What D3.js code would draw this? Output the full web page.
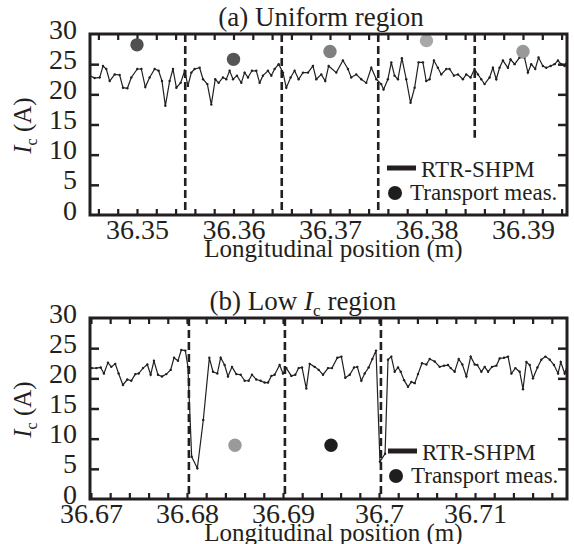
<!DOCTYPE html>
<html>
<head>
<meta charset="utf-8">
<script src="https://cdn.jsdelivr.net/npm/d3@7/dist/d3.min.js"></script>
<style>
  html, body { margin: 0; padding: 0; background: #fff; }
  svg { display: block; }
  text { font-family: "Liberation Serif", "Times New Roman", serif; fill: #231f20; }
</style>
</head>
<body>
<svg id="chart" width="574" height="544"></svg>
<script>
// ---------- (a) Uniform region: RTR-SHPM scan ----------
const posA = [
  36.34510, 36.34561, 36.34613, 36.34648, 36.34682, 36.34717, 36.34769, 36.34820, 36.34855, 36.34900,
  36.34941, 36.35003, 36.35045, 36.35086, 36.35131, 36.35183, 36.35224, 36.35259, 36.35294, 36.35338,
  36.35373, 36.35408, 36.35452, 36.35494, 36.35528, 36.35563, 36.35597, 36.35649, 36.35684, 36.35729,
  36.35770, 36.35811, 36.35846, 36.35891, 36.35925, 36.35960, 36.35995, 36.36036, 36.36081, 36.36115,
  36.36150, 36.36191, 36.36236, 36.36271, 36.36305, 36.36357, 36.36392, 36.36426, 36.36468, 36.36513,
  36.36547, 36.36592, 36.36633, 36.36675, 36.36720, 36.36772, 36.36823, 36.36858, 36.36910, 36.36951,
  36.36986, 36.37065, 36.37134, 36.37186, 36.37220, 36.37272, 36.37324, 36.37376, 36.37428, 36.37480,
  36.37531, 36.37555, 36.37600, 36.37635, 36.37669, 36.37704, 36.37745, 36.37790, 36.37835, 36.37877,
  36.37918, 36.37963, 36.37997, 36.38032, 36.38077, 36.38118, 36.38153, 36.38205, 36.38239, 36.38284,
  36.38326, 36.38377, 36.38412, 36.38457, 36.38498, 36.38533, 36.38567, 36.38602, 36.38654, 36.38688,
  36.38723, 36.38757, 36.38792, 36.38844, 36.38871, 36.38913, 36.38964, 36.39016, 36.39051, 36.39085,
  36.39127, 36.39161, 36.39206, 36.39241, 36.39286, 36.39327, 36.39362, 36.39396, 36.39431, 36.39465
];
const icA = [
  23.1, 22.7, 22.8, 24.7, 24.2, 22.2, 23.3, 23.2, 21.1, 21.0,
  22.8, 24.2, 24.2, 21.2, 22.8, 24.2, 23.9, 22.2, 18.1, 22.2,
  24.2, 21.1, 21.9, 23.9, 21.4, 23.6, 24.2, 24.4, 22.5, 21.7,
  18.3, 22.5, 21.9, 22.8, 22.5, 23.9, 22.5, 23.1, 21.9, 23.6,
  22.8, 23.9, 23.9, 21.9, 23.1, 23.9, 23.1, 24.2, 25.0, 23.6,
  21.1, 22.8, 23.9, 22.5, 23.6, 23.6, 24.7, 22.5, 23.3, 22.2,
  24.7, 23.6, 25.6, 24.2, 22.8, 23.3, 22.5, 21.9, 24.4, 22.5,
  21.7, 20.8, 22.5, 25.3, 23.1, 22.5, 26.0, 22.5, 18.6, 21.1,
  25.3, 25.3, 22.2, 22.5, 25.6, 24.4, 23.3, 24.2, 24.2, 23.1,
  23.3, 22.5, 23.3, 22.8, 24.2, 23.3, 22.5, 21.7, 22.8, 24.4,
  22.5, 24.4, 25.6, 24.4, 25.8, 25.0, 26.1, 26.1, 23.6, 25.0,
  24.2, 26.1, 24.7, 24.4, 24.7, 25.0, 25.6, 25.0, 24.7, 25.8
];
// transport measurements, one per 10 mm section
const dotPosA = [36.35, 36.36, 36.37, 36.38, 36.39];
const dotIcA = [28.2, 25.8, 27.1, 28.9, 27.1];
// section boundaries (lower end of each dashed line, in A)
const dashPosA = [36.355, 36.365, 36.375, 36.385];
const dashLowA = [0, 0, 0, 12.8];
const xTicksA = [36.35, 36.36, 36.37, 36.38, 36.39];
const xLabelsA = ["36.35", "36.36", "36.37", "36.38", "36.39"];
const xDomainA = [36.34513, 36.39456];

// ---------- (b) Low Ic region: RTR-SHPM scan ----------
const posB = [
  36.66969, 36.67010, 36.67056, 36.67101, 36.67135, 36.67177, 36.67212, 36.67253, 36.67288, 36.67333,
  36.67378, 36.67420, 36.67462, 36.67497, 36.67542, 36.67587, 36.67622, 36.67656, 36.67698, 36.67740,
  36.67785, 36.67830, 36.67865, 36.67906, 36.67941, 36.67983, 36.68010, 36.68049, 36.68108, 36.68170,
  36.68233, 36.68271, 36.68316, 36.68351, 36.68392, 36.68427, 36.68469, 36.68514, 36.68559, 36.68601,
  36.68642, 36.68677, 36.68722, 36.68767, 36.68809, 36.68844, 36.68879, 36.68913, 36.68965, 36.69000,
  36.69035, 36.69087, 36.69128, 36.69163, 36.69198, 36.69243, 36.69278, 36.69330, 36.69372, 36.69417,
  36.69469, 36.69510, 36.69566, 36.69608, 36.69649, 36.69695, 36.69740, 36.69774, 36.69816, 36.69851,
  36.69892, 36.69931, 36.69969, 36.70010, 36.70063, 36.70094, 36.70128, 36.70163, 36.70198, 36.70226,
  36.70261, 36.70302, 36.70337, 36.70372, 36.70406, 36.70448, 36.70493, 36.70528, 36.70580, 36.70632,
  36.70677, 36.70719, 36.70747, 36.70788, 36.70830, 36.70868, 36.70910, 36.70955, 36.70997, 36.71024,
  36.71066, 36.71101, 36.71136, 36.71177, 36.71222, 36.71257, 36.71302, 36.71344, 36.71379, 36.71420,
  36.71465, 36.71500, 36.71535, 36.71570, 36.71604, 36.71650, 36.71691, 36.71733, 36.71778, 36.71823,
  36.71865, 36.71893, 36.71934, 36.71969
];
const icB = [
  21.8, 21.7, 21.7, 21.8, 20.8, 22.6, 21.9, 22.4, 20.8, 18.9,
  19.8, 19.6, 20.7, 20.8, 21.7, 22.3, 20.6, 22.9, 20.6, 20.3,
  20.7, 21.4, 23.4, 22.9, 24.7, 24.6, 21.9, 7.0, 5.1, 13.1,
  23.4, 21.1, 20.8, 23.4, 22.2, 20.3, 21.9, 20.7, 20.6, 19.6,
  19.6, 20.6, 19.8, 19.6, 19.3, 19.3, 20.4, 20.6, 22.2, 20.8,
  21.7, 20.4, 20.6, 21.7, 21.8, 18.3, 22.4, 21.9, 21.4, 20.6,
  21.7, 21.7, 23.4, 23.6, 20.1, 20.6, 21.8, 21.9, 19.6, 20.8,
  21.8, 23.2, 24.6, 6.2, 7.5, 23.1, 23.6, 21.1, 21.8, 21.1,
  19.7, 18.6, 19.4, 19.2, 20.7, 22.5, 22.3, 23.2, 22.8, 21.9,
  22.1, 22.2, 21.7, 21.1, 23.2, 22.3, 20.3, 23.6, 22.3, 22.2,
  21.1, 21.9, 21.1, 21.9, 22.1, 23.3, 23.4, 23.6, 20.8, 21.7,
  21.1, 18.2, 22.7, 22.2, 20.0, 21.8, 23.1, 23.6, 23.1, 22.2,
  20.8, 22.7, 20.8, 22.5
];
const dotPosB = [36.685, 36.695];
const dotIcB = [8.9, 8.9];
const dashPosB = [36.6802, 36.6902, 36.7002];
const dashLowB = [0, 0, 0];
const xTicksB = [36.67, 36.68, 36.69, 36.70, 36.71];
const xLabelsB = ["36.67", "36.68", "36.69", "36.7", "36.71"];
const xDomainB = [36.6699, 36.71958];

const yTickValues = [0, 5, 10, 15, 20, 25, 30];

// marker shades for the transport-measurement dots
const dotShadeA = ["#505050", "#555555", "#808080", "#a8a8a8", "#999999"];
const dotShadeB = ["#9a9a9a", "#1e1e1e"];

const svg = d3.select("#chart");
const INK = "#231f20";
const L = 90, R = 567;

function drawPanel(cfg) {
  const { top, bottom, pos, ic, dotPos, dotIc, dotShade, dashPos, dashLow,
          xTicks, xLabels, xDomain, title, legend, id } = cfg;
  const x = d3.scaleLinear().domain(xDomain).range([L, R]);
  const y = d3.scaleLinear().domain([0, 30]).range([bottom, top]);
  const g = svg.append("g");

  g.append("clipPath").attr("id", "clip" + id)
    .append("rect").attr("x", L).attr("y", top).attr("width", R - L).attr("height", bottom - top);

  // minor/major x tick marks, inward on bottom and top
  const minor = x.ticks(25);
  g.append("g").attr("transform", `translate(0,${bottom})`)
    .call(d3.axisBottom(x).tickValues(minor).tickSize(-6).tickFormat(""))
    .call(a => a.select(".domain").remove())
    .call(a => a.selectAll("line").attr("stroke", INK).attr("stroke-width", 2.2));
  g.append("g").attr("transform", `translate(0,${top})`)
    .call(d3.axisTop(x).tickValues(minor).tickSize(-6).tickFormat(""))
    .call(a => a.select(".domain").remove())
    .call(a => a.selectAll("line").attr("stroke", INK).attr("stroke-width", 2.2));

  // x labels
  g.append("g").attr("transform", `translate(0,${bottom})`)
    .call(d3.axisBottom(x).tickValues(xTicks).tickSize(0).tickFormat((d, i) => xLabels[i]))
    .call(a => a.select(".domain").remove())
    .call(a => a.selectAll("text").attr("y", 24).attr("dy", 0)
      .attr("font-size", 28).attr("font-family", "Liberation Serif").attr("fill", INK));

  // y tick marks left and right
  const inner = [5, 10, 15, 20, 25];
  g.append("g").attr("transform", `translate(${L},0)`)
    .call(d3.axisLeft(y).tickValues(inner).tickSize(-9).tickFormat(""))
    .call(a => a.select(".domain").remove())
    .call(a => a.selectAll("line").attr("stroke", INK).attr("stroke-width", 2.5));
  g.append("g").attr("transform", `translate(${R},0)`)
    .call(d3.axisRight(y).tickValues(inner).tickSize(-9).tickFormat(""))
    .call(a => a.select(".domain").remove())
    .call(a => a.selectAll("line").attr("stroke", INK).attr("stroke-width", 2.5));

  // y labels
  g.append("g").attr("transform", `translate(${L},0)`)
    .call(d3.axisLeft(y).tickValues(yTickValues).tickSize(0).tickPadding(13))
    .call(a => a.select(".domain").remove())
    .call(a => a.selectAll("text").attr("dy", "4px")
      .attr("font-size", 28).attr("font-family", "Liberation Serif").attr("fill", INK));

  // section boundaries
  g.append("g").selectAll("line").data(dashPos).join("line")
    .attr("x1", d => x(d)).attr("x2", d => x(d))
    .attr("y1", y(30)).attr("y2", (d, i) => y(dashLow[i]))
    .attr("stroke", INK).attr("stroke-width", 2.6).attr("stroke-dasharray", "8,4");

  // RTR-SHPM profile
  const pts = pos.map((p, i) => [p, ic[i]]);
  const lineGen = d3.line().x(d => x(d[0])).y(d => y(d[1]));
  const lg = g.append("g").attr("clip-path", `url(#clip${id})`);
  lg.append("path").datum(pts).attr("d", lineGen)
    .attr("fill", "none").attr("stroke", INK).attr("stroke-width", 1.2)
    .attr("stroke-linejoin", "miter");
  lg.selectAll("circle").data(pts).join("circle")
    .attr("cx", d => x(d[0])).attr("cy", d => y(d[1])).attr("r", 1.2).attr("fill", INK);

  // transport measurements
  g.append("g").selectAll("circle").data(dotPos).join("circle")
    .attr("cx", d => x(d)).attr("cy", (d, i) => y(dotIc[i])).attr("r", 6.7)
    .attr("fill", (d, i) => dotShade[i]);

  // frame
  g.append("rect").attr("x", L).attr("y", top).attr("width", R - L).attr("height", bottom - top)
    .attr("fill", "none").attr("stroke", INK).attr("stroke-width", 3);

  // panel title
  const t = g.append("text").attr("x", title.cx).attr("y", top - 8)
    .attr("text-anchor", "middle").attr("font-size", 27);
  title.parts.forEach(p => {
    const ts = t.append("tspan").text(p.text);
    if (p.italic) ts.attr("font-style", "italic");
    if (p.sub) ts.attr("font-size", 17).attr("dy", 6);
    if (p.back) ts.attr("dy", -6);
  });

  // y axis title
  const yt = g.append("text")
    .attr("transform", `translate(31,${(top + bottom) / 2 + 1}) rotate(-90)`)
    .attr("text-anchor", "middle").attr("font-size", 25);
  yt.append("tspan").attr("font-style", "italic").text("I");
  yt.append("tspan").attr("font-size", 16).attr("dy", 6).text("c");
  yt.append("tspan").attr("dy", -6).text(" (A)");

  // x axis title
  g.append("text").attr("x", (L + R) / 2 + 5).attr("y", bottom + 42)
    .attr("text-anchor", "middle").attr("font-size", 25)
    .text("Longitudinal position (m)");

  // legend
  g.append("line").attr("x1", legend.x).attr("x2", legend.x + 29)
    .attr("y1", legend.y).attr("y2", legend.y)
    .attr("stroke", INK).attr("stroke-width", 5);
  g.append("text").attr("x", legend.x + 34).attr("y", legend.y + 9)
    .attr("font-size", 23).text("RTR-SHPM");
  g.append("circle").attr("cx", legend.x + 8).attr("cy", legend.y + 25).attr("r", 7)
    .attr("fill", "#1e1e1e");
  g.append("text").attr("x", legend.x + 23).attr("y", legend.y + 32)
    .attr("font-size", 23).text("Transport meas.");
}

drawPanel({
  id: "a", top: 34, bottom: 215,
  pos: posA, ic: icA, dotPos: dotPosA, dotIc: dotIcA, dotShade: dotShadeA,
  dashPos: dashPosA, dashLow: dashLowA,
  xTicks: xTicksA, xLabels: xLabelsA, xDomain: xDomainA,
  title: { cx: 321, parts: [{ text: "(a) Uniform region" }] },
  legend: { x: 387, y: 168 }
});

drawPanel({
  id: "b", top: 318, bottom: 499,
  pos: posB, ic: icB, dotPos: dotPosB, dotIc: dotIcB, dotShade: dotShadeB,
  dashPos: dashPosB, dashLow: dashLowB,
  xTicks: xTicksB, xLabels: xLabelsB, xDomain: xDomainB,
  title: { cx: 303, parts: [{ text: "(b) Low " }, { text: "I", italic: true },
                            { text: "c", sub: true }, { text: " region", back: true }] },
  legend: { x: 388, y: 451 }
});
</script>
</body>
</html>
